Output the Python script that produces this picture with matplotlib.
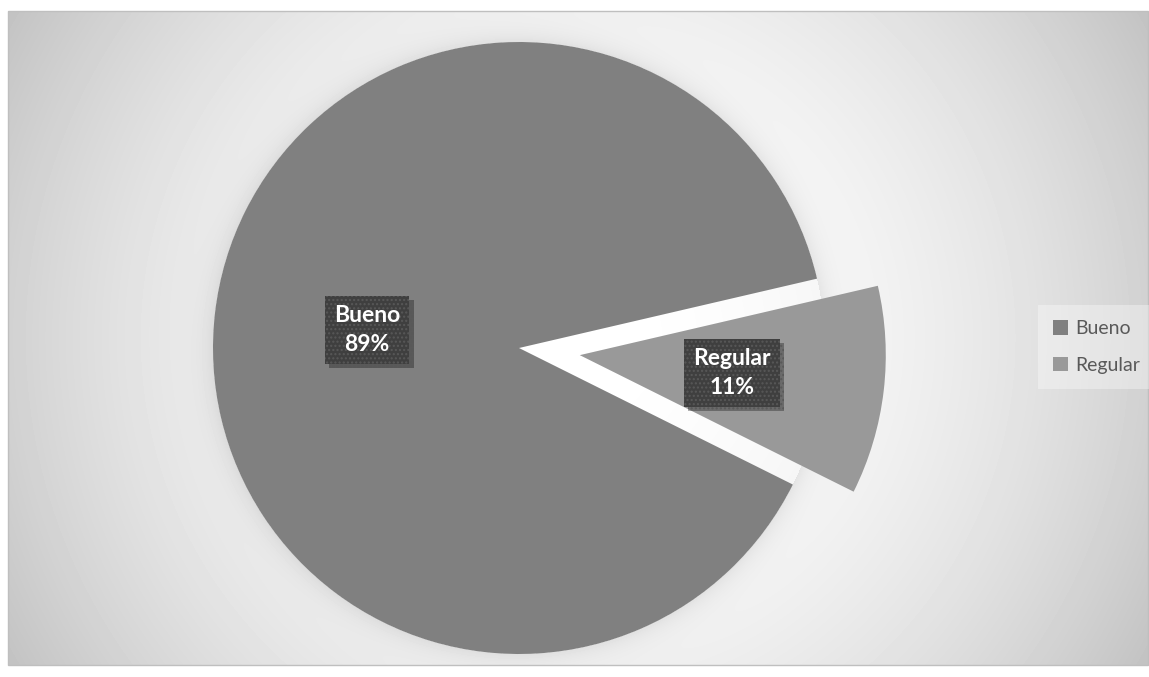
import numpy as np
import matplotlib
matplotlib.use("Agg")
import matplotlib.pyplot as plt
from matplotlib import patheffects
from matplotlib.patches import Rectangle, Patch

categorias = ["Bueno", "Regular"]
porcentajes = [89, 11]
colores = ["#808080", "#999999"]

W, H = 1149, 677
fig = plt.figure(figsize=(W / 100, H / 100), dpi=100)
fig.patch.set_facecolor("white")
ax = fig.add_axes([0, 0, 1, 1])
ax.set_axis_off()

# chart area (pixels, top-left origin)
x0, y0, x1, y1 = 8, 11, 1148, 665
cx, cy, radio = 519, 348, 306

# radial gray background with a soft shadow around the pie
yy, xx = np.mgrid[y0:y1, x0:x1] + 0.5
d = np.hypot(xx - 578, yy - 338)
fondo = 1 - 0.24 * (d / 660) ** 2
de = np.hypot(xx - cx, yy - cy) - radio
fondo -= 0.07 * np.exp(-np.clip(de, 0, None) / 12) * (de > 0)
ax.imshow(fondo, cmap="gray", vmin=0, vmax=1, origin="upper",
          extent=(x0, x1, H - y1, H - y0), zorder=0, interpolation="bilinear")
ax.add_patch(Rectangle((x0, H - y1), x1 - x0, y1 - y0, fill=False,
                       ec="#BFBFBF", lw=1, zorder=3))

# explode is in data units here, so scale it by the radius
wedges, _ = ax.pie(porcentajes, colors=colores, startangle=-26.5,
                   counterclock=False, explode=[0, 0.2 * radio], radius=radio,
                   center=(cx, H - cy), wedgeprops=dict(lw=0))
for w in wedges:
    w.set_zorder(2)

for w, cat, pct in zip(wedges, categorias, porcentajes):
    ang = np.deg2rad((w.theta1 + w.theta2) / 2)
    wx, wy = w.center
    tx = wx + 0.5 * w.r * np.cos(ang)
    ty = wy + 0.5 * w.r * np.sin(ang)
    t = ax.text(tx, ty, f"{cat}\n{pct}%", ha="center", va="center",
                color="white", fontsize=16.5, fontweight="bold",
                family=["Lato", "DejaVu Sans"], linespacing=1.45, zorder=5,
                bbox=dict(boxstyle="square,pad=0.4", fc="#3F3F3F",
                          ec="#585858", lw=0, hatch="...."))
    t.get_bbox_patch().set_path_effects([
        patheffects.SimplePatchShadow(offset=(3, -3), shadow_rgbFace="black", alpha=0.3),
        patheffects.Normal()])

handles = [Patch(fc=c, ec="none") for c in colores]
leg = ax.legend(handles, categorias, loc="center left",
                bbox_to_anchor=(1028 / W, 1 - 347 / H), frameon=True,
                fancybox=False, framealpha=0.35, facecolor="white",
                edgecolor="none", handlelength=0.75, handleheight=0.75,
                handletextpad=0.4, labelspacing=1.0, borderpad=0.8,
                prop=dict(family=["Lato", "DejaVu Sans"], size=14))
for txt in leg.get_texts():
    txt.set_color("#595959")

ax.set_xlim(0, W)
ax.set_ylim(0, H)
ax.set_aspect("auto")
fig.savefig("out.png", dpi=100)
